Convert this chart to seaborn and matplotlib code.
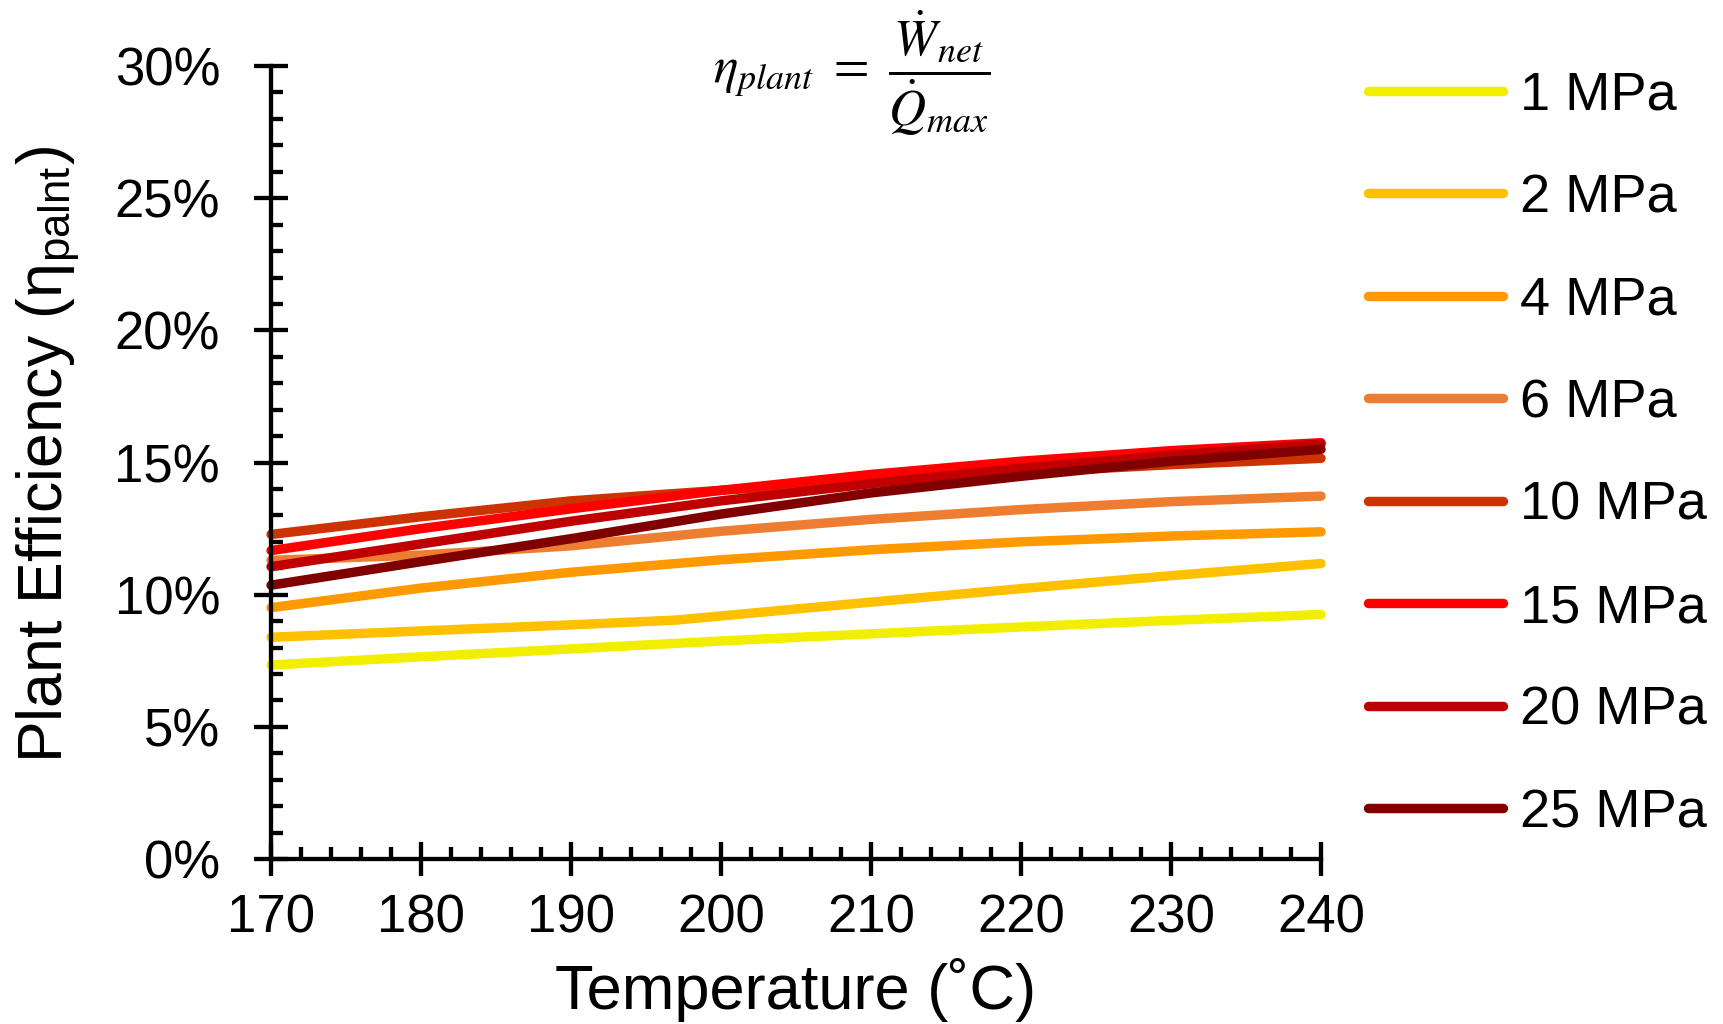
import matplotlib
matplotlib.use("Agg")
import matplotlib.pyplot as plt
from matplotlib.ticker import MultipleLocator, FuncFormatter
import seaborn as sns
import pandas as pd

# ---- data (plant efficiency, %) ----
temps = [170, 180, 190, 200, 210, 220, 230, 240]
temps_2mpa = [170, 180, 190, 197, 210, 220, 230, 240]

eff_1mpa = [7.34, 7.65, 7.95, 8.25, 8.52, 8.78, 9.03, 9.25]
eff_2mpa = [8.39, 8.63, 8.86, 9.04, 9.72, 10.23, 10.72, 11.18]
eff_4mpa = [9.51, 10.25, 10.85, 11.32, 11.70, 12.00, 12.22, 12.38]
eff_6mpa = [11.30, 11.50, 11.85, 12.40, 12.85, 13.22, 13.52, 13.73]
eff_10mpa = [12.28, 12.95, 13.55, 13.95, 14.30, 14.62, 14.92, 15.16]
eff_15mpa = [11.67, 12.50, 13.25, 13.95, 14.55, 15.05, 15.45, 15.75]
eff_20mpa = [11.06, 11.92, 12.78, 13.55, 14.20, 14.78, 15.28, 15.70]
eff_25mpa = [10.36, 11.25, 12.12, 13.05, 13.85, 14.48, 15.05, 15.50]

labels = ["1 MPa", "2 MPa", "4 MPa", "6 MPa", "10 MPa", "15 MPa", "20 MPa", "25 MPa"]
colors = ["#F2EE00", "#FFC000", "#FF9900", "#ED7D31", "#CC3300", "#FF0000", "#C00000", "#800000"]

x_ticks = [170, 180, 190, 200, 210, 220, 230, 240]
y_ticks = [0, 5, 10, 15, 20, 25, 30]

series_x = [temps, temps_2mpa, temps, temps, temps, temps, temps, temps]
series_y = [eff_1mpa, eff_2mpa, eff_4mpa, eff_6mpa, eff_10mpa, eff_15mpa, eff_20mpa, eff_25mpa]

sns.set_theme(style="white")
plt.rcParams["font.family"] = ["Liberation Sans", "DejaVu Sans"]
plt.rcParams["mathtext.fontset"] = "stix"
plt.rcParams["text.color"] = "black"

fig = plt.figure(figsize=(17.23, 10.24), dpi=100)
ax = fig.add_axes([0.1573, 0.1611, 0.6094, 0.7744])

for xs, ys, lab, col in zip(series_x, series_y, labels, colors):
    df = pd.DataFrame({"T": xs, "eff": ys})
    sns.lineplot(data=df, x="T", y="eff", ax=ax, color=col, linewidth=6.8,
                 label=lab, solid_capstyle="round", clip_on=False, legend=False)

ax.set_xlim(170, 240)
ax.set_ylim(0, 30)
ax.set_xticks(x_ticks)
ax.set_yticks(y_ticks)
ax.xaxis.set_minor_locator(MultipleLocator(2))
ax.yaxis.set_minor_locator(MultipleLocator(1))
ax.yaxis.set_major_formatter(FuncFormatter(lambda v, p: f"{v:.0f}%"))

for side in ["top", "right"]:
    ax.spines[side].set_visible(False)
for side in ["left", "bottom"]:
    ax.spines[side].set_color("black")
    ax.spines[side].set_linewidth(3.1)
    ax.spines[side].set_zorder(5)

ax.tick_params(which="major", direction="inout", length=23.8, width=3.1,
               color="black", labelsize=38, labelcolor="black")
ax.tick_params(which="minor", direction="in", length=8.6, width=3.1, color="black")
ax.tick_params(axis="x", which="both", bottom=True)
ax.tick_params(axis="y", which="both", left=True)
ax.tick_params(axis="y", which="major", pad=24.8)
ax.tick_params(axis="x", which="major", pad=12.6)

ax.set_xlabel("Temperature (˚C)", fontsize=45.5, color="black", labelpad=11)
ax.set_ylabel("Plant Efficiency (η$_{\\mathregular{palnt}}$)", fontsize=45,
              color="black")
ax.yaxis.set_label_coords(-0.180, 0.51)

ax.legend(loc="upper left", bbox_to_anchor=(0.794, 0.931),
          bbox_transform=fig.transFigure, frameon=False, fontsize=39,
          handlelength=2.5, handletextpad=0.3, labelspacing=0.97,
          borderpad=0, borderaxespad=0, labelcolor="black")

fig.text(0.4945, 0.928, r"$\eta_{plant}\ =\ \dfrac{\dot{W}_{net}}{\dot{Q}_{max}}$",
         fontsize=37, ha="center", va="center", color="black")

fig.savefig("out.png", dpi=100, facecolor="white")
